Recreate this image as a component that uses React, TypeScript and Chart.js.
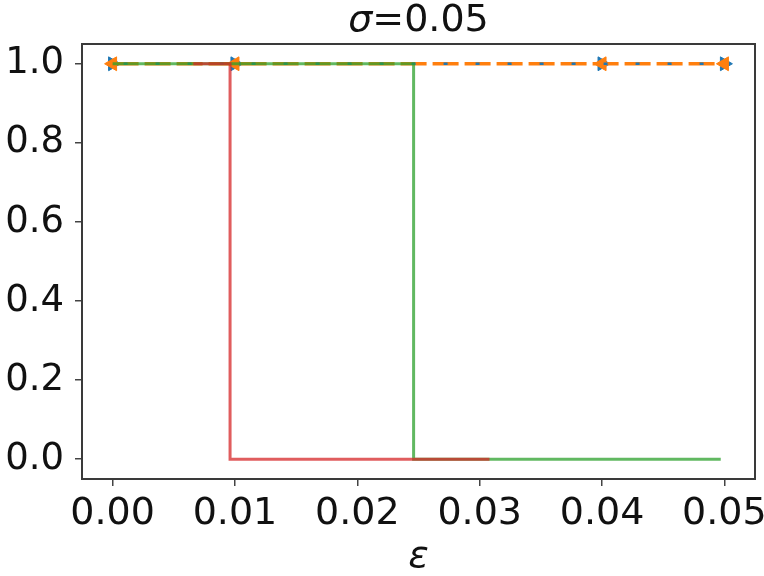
import React, { useEffect, useRef } from "react";
import { Chart, registerables } from "chart.js";
Chart.register(...registerables);

const xTickValues = [0, 0.01, 0.02, 0.03, 0.04, 0.05];
const yTickValues = [0, 0.2, 0.4, 0.6, 0.8, 1.0];
const sampleEps = [0, 0.01, 0.04, 0.05];
const blueValues = [1, 1, 1, 1];
const orangeValues = [1, 1, 1, 1];
const greenEps = [0, 0.0246, 0.0246, 0.0497];
const greenValues = [1, 1, 0, 0];
const redEps = [0.0066, 0.0096, 0.0096, 0.0308];
const redValues = [1, 1, 0, 0];

const titleSymbol = "σ";
const titleRest = "=0.05";
const xLabel = "ε";

const FONT = "'DejaVu Sans', sans-serif";

const framePlugin = {
  id: "frameAndTitle",
  afterDraw(chart: any) {
    const { ctx, chartArea } = chart;
    const { left, top, right, bottom } = chartArea;
    ctx.save();
    ctx.strokeStyle = "#3a3a3a";
    ctx.lineWidth = 2;
    ctx.strokeRect(left, top, right - left, bottom - top);
    // title
    ctx.fillStyle = "#111";
    ctx.textBaseline = "alphabetic";
    ctx.textAlign = "left";
    ctx.font = `italic 38px ${FONT}`;
    const w1 = ctx.measureText(titleSymbol).width;
    ctx.font = `38px ${FONT}`;
    const w2 = ctx.measureText(titleRest).width;
    const cx = (left + right) / 2;
    const x0 = cx - (w1 + w2) / 2;
    const baseY = 31;
    ctx.font = `italic 38px ${FONT}`;
    ctx.fillText(titleSymbol, x0, baseY);
    ctx.font = `38px ${FONT}`;
    ctx.fillText(titleRest, x0 + w1, baseY);
    ctx.restore();
  },
};

const pts = (xs: number[], ys: number[]) => xs.map((x, i) => ({ x, y: ys[i] }));

export default function App() {
  const ref = useRef<HTMLCanvasElement | null>(null);
  useEffect(() => {
    document.body.style.margin = "0";
    if (!ref.current) return;
    const chart = new Chart(ref.current, {
      type: "line",
      data: {
        datasets: [
          {
            label: "red",
            data: pts(redEps, redValues),
            borderColor: "rgba(214,39,40,0.75)",
            borderWidth: 3,
            pointRadius: 0,
            fill: false,
            tension: 0,
          },
          {
            label: "green",
            data: pts(greenEps, greenValues),
            borderColor: "rgba(44,160,44,0.75)",
            borderWidth: 3,
            pointRadius: 0,
            fill: false,
            tension: 0,
          },
          {
            label: "blue line",
            data: pts(sampleEps, blueValues),
            borderColor: "#1f77b4",
            borderWidth: 2.5,
            borderDash: [4, 28],
            borderDashOffset: 21,
            pointRadius: 0,
            fill: false,
            tension: 0,
          },
          {
            label: "orange",
            data: pts(sampleEps, orangeValues),
            borderColor: "#ff7f0e",
            borderWidth: 3.5,
            borderDash: [26, 6],
            pointStyle: "triangle",
            pointRotation: -90,
            pointRadius: 8,
            pointBackgroundColor: "#ff7f0e",
            pointBorderColor: "#ff7f0e",
            pointBorderWidth: 1,
            fill: false,
            tension: 0,
          },
          {
            label: "blue markers",
            data: pts(sampleEps, blueValues),
            showLine: false,
            pointStyle: "triangle",
            pointRotation: 90,
            pointRadius: 8,
            pointBackgroundColor: "#1f77b4",
            pointBorderColor: "#1f77b4",
            pointBorderWidth: 1,
          },
        ],
      },
      options: {
        animation: false,
        responsive: false,
        clip: false as any,
        layout: { padding: { left: 0, right: 9, top: 44, bottom: 0 } },
        plugins: {
          legend: { display: false },
          tooltip: { enabled: false },
          title: { display: false },
        },
        scales: {
          x: {
            type: "linear",
            min: -0.0025,
            max: 0.0525,
            afterBuildTicks: (s: any) => {
              s.ticks = xTickValues.map((v) => ({ value: v }));
            },
            afterFit: (s: any) => {
              s.height = 97;
              s.paddingLeft = 0;
              s.paddingRight = 0;
            },
            ticks: {
              autoSkip: false,
              maxRotation: 0,
              minRotation: 0,
              padding: 5,
              color: "#111",
              font: { family: FONT, size: 38 },
              callback: (v: any) => Number(v).toFixed(2),
            },
            grid: {
              drawOnChartArea: false,
              drawTicks: true,
              tickLength: 7,
              color: "#444",
              lineWidth: 1.5,
            },
            border: { display: false },
            title: {
              display: true,
              text: xLabel,
              color: "#111",
              font: { family: FONT, size: 38, style: "italic", lineHeight: 1 },
              padding: { top: 0, bottom: 0 },
            },
          },
          y: {
            type: "linear",
            min: -0.05,
            max: 1.05,
            afterBuildTicks: (s: any) => {
              s.ticks = yTickValues.map((v) => ({ value: v }));
            },
            afterFit: (s: any) => {
              s.width = 82;
              s.paddingTop = 0;
              s.paddingBottom = 0;
            },
            ticks: {
              autoSkip: false,
              padding: 11,
              color: "#111",
              font: { family: FONT, size: 37 },
              callback: (v: any) => Number(v).toFixed(1),
            },
            grid: {
              drawOnChartArea: false,
              drawTicks: true,
              tickLength: 7,
              color: "#444",
              lineWidth: 1.5,
            },
            border: { display: false },
          },
        },
      },
      plugins: [framePlugin],
    });
    return () => chart.destroy();
  }, []);
  return (
    <div style={{ width: 764, height: 576 }}>
      <canvas ref={ref} width={764} height={576} style={{ display: "block" }} />
    </div>
  );
}
